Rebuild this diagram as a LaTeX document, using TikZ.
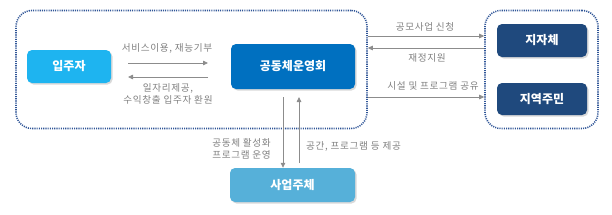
\documentclass[tikz,border=0pt]{standalone}
\usepackage{fontspec}
\setmainfont{Noto Sans CJK KR}
\newfontfamily\lblfont[LetterSpace=7]{Noto Sans CJK KR}
\usetikzlibrary{arrows.meta}
\definecolor{cyanbox}{RGB}{30,180,240}
\definecolor{bluebox}{RGB}{0,112,192}
\definecolor{navybox}{RGB}{31,73,125}
\definecolor{skybox}{RGB}{86,176,217}
\definecolor{dotblue}{RGB}{47,85,151}
\definecolor{linegray}{RGB}{140,140,140}
\definecolor{textgray}{RGB}{128,128,128}
\tikzset{
  filled/.style={rounded corners=5pt, inner sep=0pt, text=white, font=\fontsize{12}{14}\selectfont\bfseries},
  dotbox/.style={draw=dotblue, line width=1.6pt, dash pattern=on 1.1pt off 1.1pt, rounded corners=16pt, inner sep=0pt},
  conn/.style={draw=linegray, line width=0.8pt, -{Triangle[length=5pt,width=4.5pt]}},
  lbl/.style={text=textgray, font=\lblfont\fontsize{9.6}{12}\selectfont, inner sep=0pt, align=center}
}
\begin{document}
\begin{tikzpicture}[x=1pt,y=-1pt]
\useasboundingbox (0,0) rectangle (612,214);
% dotted groups
\node[dotbox, minimum width=351pt, minimum height=118pt] (L) at (191.5,69.5) {};
\node[dotbox, minimum width=113pt, minimum height=118pt] (R) at (541.5,69.5) {};
% shadows
\fill[black!15, rounded corners=5pt] (28.5,51.5) rectangle (112.5,84.5);
\fill[black!15, rounded corners=5pt] (232.5,45.5) rectangle (356.5,90.5);
\fill[black!15, rounded corners=5pt] (498.5,25.5) rectangle (588.5,58.5);
\fill[black!15, rounded corners=5pt] (498.5,84.5) rectangle (588.5,116.5);
\fill[black!15, rounded corners=5pt] (231.5,169.5) rectangle (356.5,203.5);
% boxes
\node[filled, fill=cyanbox, minimum width=84pt, minimum height=33pt] (ip) at (69,66.5) {입주자};
\node[filled, fill=bluebox, minimum width=124pt, minimum height=45pt] (gd) at (293,66.5) {공동체운영회};
\node[filled, fill=navybox, minimum width=90pt, minimum height=33pt] (jj) at (542,40.5) {지자체};
\node[filled, fill=navybox, minimum width=90pt, minimum height=32pt] (jy) at (542,99) {지역주민};
\node[filled, fill=skybox, minimum width=125pt, minimum height=34pt] (sa) at (292.5,185) {사업주체};
% coordinates for free-ended connectors
\coordinate (a1) at (128,63);
\coordinate (a2) at (208,63);
\coordinate (b1) at (208,77);
\coordinate (b2) at (128,77);
\coordinate (d1) at (283,97);
\coordinate (u2) at (299,97);
\coordinate (u1) at (299,163);
% connectors
\draw[conn] (a1) -- (a2);
\draw[conn] (b1) -- (b2);
\draw[conn] (L.east |- 0,36) -- (R.west |- 0,36);
\draw[conn] (R.west |- 0,48) -- (L.east |- 0,48);
\draw[conn] (L.east |- 0,97) -- (R.west |- 0,97);
\draw[conn] (d1) -- (sa.north -| d1);
\draw[conn] (u1) -- (u2);
% labels
\node[lbl] at (167,48) {서비스이용, 재능기부};
\node[lbl] at (168,94) {일자리제공,\\수익창출 입주자 환원};
\node[lbl] at (425,27) {공모사업 신청};
\node[lbl] at (427,58) {재정지원};
\node[lbl] at (433,86) {시설 및 프로그램 공유};
\node[lbl, anchor=east, align=right] at (271,149) {공동체 활성화\\프로그램 운영};
\node[lbl, anchor=west] at (306,146) {공간, 프로그램 등 제공};
\end{tikzpicture}
\end{document}
